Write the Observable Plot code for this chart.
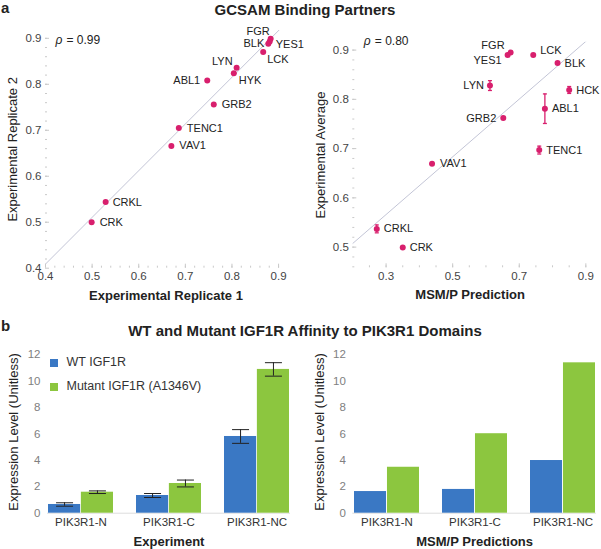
<!DOCTYPE html>
<html><head><meta charset="utf-8">
<script src="https://cdn.jsdelivr.net/npm/d3@7"></script>
<script src="https://cdn.jsdelivr.net/npm/@observablehq/plot@0.6"></script>
<style>
body{margin:0;background:#fff;}
#fig{position:relative;width:601px;height:549px;overflow:hidden;font-family:"Liberation Sans",Arial,Helvetica,sans-serif;color:#222;}
.abs{position:absolute;line-height:1;white-space:nowrap;}
.letter{font-weight:bold;font-size:15px;}
.title{font-weight:bold;font-size:15px;text-align:center;}
.sw{position:absolute;width:8px;height:8px;}
.lg{position:absolute;font-size:12.5px;line-height:1;color:#333;}
</style></head><body><div id="fig"></div>
<script>
// ---------- data ----------
const partnersA1 = ["FGR","YES1","BLK","LCK","LYN","HYK","ABL1","GRB2","TENC1","VAV1","CRKL","CRK"];
const replicate1 = [0.883,0.881,0.878,0.867,0.810,0.804,0.747,0.761,0.686,0.670,0.529,0.499];
const replicate2 = [0.899,0.893,0.888,0.870,0.836,0.824,0.808,0.756,0.705,0.666,0.544,0.500];

const partnersA2 = ["FGR","YES1","LCK","BLK","LYN","HCK","ABL1","GRB2","TENC1","VAV1","CRKL","CRK"];
const msmpPrediction = [0.674,0.665,0.742,0.815,0.612,0.850,0.777,0.652,0.760,0.438,0.272,0.350];
const experimentalAverage = [0.895,0.890,0.890,0.874,0.828,0.819,0.781,0.762,0.697,0.669,0.537,0.499];
const averageError = [0,0,0,0,0.010,0.007,0.030,0,0.008,0,0.008,0];

const rhoA1 = "0.99";
const rhoA2 = "0.80";

const domainsB = ["PIK3R1-N","PIK3R1-C","PIK3R1-NC"];
const seriesB = ["WT IGF1R","Mutant IGF1R (A1346V)"];
const experimentWT = [0.66,1.34,5.81];
const experimentWTErr = [0.13,0.15,0.52];
const experimentMut = [1.59,2.25,10.89];
const experimentMutErr = [0.10,0.26,0.51];
const predictionWT = [1.64,1.80,3.99];
const predictionMut = [3.48,6.02,11.39];

const ticksA1 = [0.4,0.5,0.6,0.7,0.8,0.9];
const ticksA2x = [0.3,0.5,0.7,0.9];
const ticksA2y = [0.5,0.6,0.7,0.8,0.9];
const ticksB = [0,2,4,6,8,10,12];

// ---------- styles ----------
const FONT = '"Liberation Sans", Arial, Helvetica, sans-serif';
const PINK = "#d81f6d";
const BLUE = "#3a78c4";
const GREEN = "#8cc63f";
const AXIS = "#c9c9c9";
const fig = document.getElementById("fig");

// label placement: [dx, dy, anchor]
const placeA1 = {FGR:[-1,-7,"end"],YES1:[6,3,"start"],BLK:[-4,0,"end"],LCK:[4,7,"start"],LYN:[-4,-6,"end"],
  HYK:[5,7,"start"],ABL1:[-7,0,"end"],GRB2:[8,0,"start"],TENC1:[8,0,"start"],VAV1:[8,0,"start"],CRKL:[7,0,"start"],CRK:[8,0,"start"]};
const placeA2 = {FGR:[-6,-7,"end"],YES1:[-6,5,"end"],LCK:[7,-5,"start"],BLK:[7,1,"start"],LYN:[-6,0,"end"],
  HCK:[7,0,"start"],ABL1:[7,0,"start"],GRB2:[-7,0,"end"],TENC1:[7,0,"start"],VAV1:[8,0,"start"],CRKL:[7,0,"start"],CRK:[7,0,"start"]};

function place(node, left, top){ node.style.position="absolute"; node.style.left=left+"px"; node.style.top=top+"px"; fig.appendChild(node); return node; }
function addText(cls, text, left, top, extra){ const d=document.createElement("div"); d.className="abs "+cls; d.textContent=text; if(extra) Object.assign(d.style, extra); place(d,left,top); return d; }

const capSymbol = {draw(ctx, size){ const r=Math.sqrt(size/Math.PI); ctx.moveTo(-r,0); ctx.lineTo(r,0); }};

function range(a,b,s){ const out=[]; for(let v=a; v<=b+1e-9; v+=s) out.push(+v.toFixed(4)); return out; }

function regression(xs, ys, xDomain){
  const mx=d3.mean(xs), my=d3.mean(ys);
  const b=d3.sum(xs,(x,i)=>(x-mx)*(ys[i]-my))/d3.sum(xs,x=>(x-mx)**2);
  const a=my-b*mx;
  return xDomain.map(x=>({x, y:a+b*x}));
}

function scatterPanel(o){
  const rows = o.names.map((n,i)=>({name:n, x:o.xs[i], y:o.ys[i], e:o.errs?o.errs[i]:0}));
  const errRows = rows.filter(d=>d.e>0);
  const marks = [
    Plot.line(regression(o.xs,o.ys,o.xDomain), {x:"x", y:"y", stroke:"#c3c5d6", strokeWidth:1, clip:true}),
    Plot.axisX({ticks:o.xMinor, tickSize:-2, tickFormat:()=>"", stroke:AXIS, label:null}),
    Plot.axisY({ticks:o.yMinor, tickSize:-2, tickFormat:()=>"", stroke:AXIS, label:null}),
    Plot.axisX({ticks:o.xTicks, tickSize:-4, tickFormat:()=>"", stroke:AXIS, label:null}),
    Plot.axisY({ticks:o.yTicks, tickSize:-4, tickFormat:()=>"", stroke:AXIS, label:null}),
    Plot.axisX({ticks:o.xTicks, tickSize:0, tickPadding:4, line:true, stroke:AXIS, fill:"#444", fontSize:11.5, tickFormat:d3.format(".1f"), label:null}),
    Plot.axisY({ticks:o.yTicks, tickSize:0, tickPadding:4, line:true, stroke:AXIS, fill:"#444", fontSize:11.5, tickFormat:d3.format(".1f"), label:null}),
    Plot.ruleX(errRows, {x:"x", y1:d=>d.y-d.e, y2:d=>d.y+d.e, stroke:PINK, strokeWidth:1.3}),
    Plot.dot(errRows, {x:"x", y:d=>d.y-d.e, symbol:capSymbol, r:2, stroke:PINK, fill:"none", strokeWidth:1.3}),
    Plot.dot(errRows, {x:"x", y:d=>d.y+d.e, symbol:capSymbol, r:2, stroke:PINK, fill:"none", strokeWidth:1.3}),
    Plot.dot(rows, {x:"x", y:"y", r:3, fill:PINK, stroke:"none"}),
    ...rows.map(d=>{ const p=o.place[d.name]; return Plot.text([d], {x:"x", y:"y", text:"name", dx:p[0], dy:p[1], textAnchor:p[2], fill:"#222", fontSize:11}); }),
    Plot.text(["ρ"], {text:d=>d, frameAnchor:"top-left", dx:o.rhoDx, dy:o.rhoDy, fontStyle:"italic", fontSize:12, fill:"#222", textAnchor:"start", lineAnchor:"middle"}),
    Plot.text(["= "+o.rho], {text:d=>d, frameAnchor:"top-left", dx:o.rhoDx+11, dy:o.rhoDy, fontSize:12, fill:"#222", textAnchor:"start", lineAnchor:"middle"}),
    Plot.text([o.xLabel], {text:d=>d, frameAnchor:"bottom", dy:o.xLabelDy, fontWeight:"bold", fontSize:13, fill:"#222", textAnchor:"middle", lineAnchor:"middle"}),
    Plot.text([o.yLabel], {text:d=>d, frameAnchor:"left", dx:-o.yLabelDx, rotate:-90, fontSize:13, fill:"#222", textAnchor:"middle", lineAnchor:"middle"})
  ];
  return Plot.plot({
    width:o.width, height:o.height, marginLeft:o.ml, marginRight:o.mr, marginTop:o.mt, marginBottom:o.mb,
    style:{fontFamily:FONT, fontSize:"12px", background:"transparent", overflow:"visible"},
    x:{domain:o.xDomain}, y:{domain:o.yDomain},
    marks
  });
}

function barPanel(o){
  const pad = 0.258;
  const bw = (o.width-o.ml-o.mr)/(domainsB.length-pad)*(1-pad);
  const half = bw/2;
  const wt = domainsB.map((c,i)=>({cat:c, v:o.wt[i], e:o.wtErr?o.wtErr[i]:0}));
  const mut = domainsB.map((c,i)=>({cat:c, v:o.mut[i], e:o.mutErr?o.mutErr[i]:0}));
  const errMarks = (rows, dx)=>{
    const r = rows.filter(d=>d.e>0);
    return [
      Plot.ruleX(r, {x:"cat", y1:d=>d.v-d.e, y2:d=>d.v+d.e, dx, stroke:"#222", strokeWidth:1}),
      Plot.dot(r, {x:"cat", y:d=>d.v-d.e, dx, symbol:capSymbol, r:8.5, stroke:"#222", fill:"none", strokeWidth:1}),
      Plot.dot(r, {x:"cat", y:d=>d.v+d.e, dx, symbol:capSymbol, r:8.5, stroke:"#222", fill:"none", strokeWidth:1})
    ];
  };
  return Plot.plot({
    width:o.width, height:o.height, marginLeft:o.ml, marginRight:o.mr, marginTop:o.mt, marginBottom:o.mb,
    style:{fontFamily:FONT, fontSize:"12px", background:"transparent", overflow:"visible"},
    x:{domain:domainsB, paddingInner:pad, paddingOuter:0},
    y:{domain:[0,12.3]},
    marks:[
      Plot.ruleY([0], {stroke:"#dddddd"}),
      Plot.axisY({ticks:ticksB, tickSize:0, tickPadding:7, line:true, stroke:"#dddddd", fill:"#808080", fontSize:11.5, label:null}),
      Plot.axisX({tickSize:0, tickPadding:5, fill:"#333", fontSize:11.5, label:null}),
      Plot.barY(wt, {x:"cat", y:"v", fill:BLUE, insetRight:half}),
      Plot.barY(mut, {x:"cat", y:"v", fill:GREEN, insetLeft:half}),
      ...errMarks(wt, -half/2),
      ...errMarks(mut, half/2),
      Plot.text([o.xLabel], {text:d=>d, frameAnchor:"bottom", dy:o.xLabelDy, fontWeight:"bold", fontSize:13, fill:"#222", textAnchor:"middle", lineAnchor:"middle"}),
      Plot.text([o.yLabel], {text:d=>d, frameAnchor:"left", dx:-o.yLabelDx, rotate:-90, fontSize:13, fill:"#222", textAnchor:"middle", lineAnchor:"middle"})
    ]
  });
}

// ---------- panel a ----------
place(scatterPanel({
  names:partnersA1, xs:replicate1, ys:replicate2, xDomain:[0.4,0.917], yDomain:[0.4,0.917],
  xTicks:ticksA1, yTicks:ticksA1, xMinor:range(0.42,0.9,0.02), yMinor:range(0.42,0.9,0.02),
  width:300, height:310, ml:45, mr:14, mt:30, mb:42.3, place:placeA1, rho:rhoA1, rhoDx:10, rhoDy:10,
  xLabel:"Experimental Replicate 1", yLabel:"Experimental Replicate 2", xLabelDy:27.5, yLabelDx:33
}), 0, 0);

place(scatterPanel({
  names:partnersA2, xs:msmpPrediction, ys:experimentalAverage, errs:averageError, xDomain:[0.2,0.905], yDomain:[0.458,0.916],
  xTicks:ticksA2x, yTicks:ticksA2y, xMinor:range(0.25,0.9,0.05), yMinor:range(0.46,0.9,0.02),
  width:301, height:310, ml:52.3, mr:14, mt:41.7, mb:42.7, place:placeA2, rho:rhoA2, rhoDx:11, rhoDy:-1,
  xLabel:"MSM/P Prediction", yLabel:"Experimental Average", xLabelDy:27.5, yLabelDx:32
}), 300, 0);

// ---------- panel b ----------
place(barPanel({
  wt:experimentWT, wtErr:experimentWTErr, mut:experimentMut, mutErr:experimentMutErr,
  width:300, height:249, ml:47, mr:10, mt:50.3, mb:36.3,
  xLabel:"Experiment", yLabel:"Expression Level (Unitless)", xLabelDy:28.5, yLabelDx:34
}), 0, 300);

place(barPanel({
  wt:predictionWT, mut:predictionMut,
  width:301, height:249, ml:52.3, mr:5, mt:50.3, mb:36.3,
  xLabel:"MSM/P Predictions", yLabel:"Expression Level (Unitless)", xLabelDy:28.5, yLabelDx:33
}), 300, 300);

// ---------- titles & legend ----------
addText("letter","a",1,0);
addText("title","GCSAM Binding Partners",5,1.5,{width:"600px"});
addText("letter","b",1,318);
addText("title","WT and Mutant IGF1R Affinity to PIK3R1 Domains",5,322.5,{width:"600px"});

const legendColors = [BLUE, GREEN];
seriesB.forEach((s,i)=>{
  const sw=document.createElement("div"); sw.className="sw"; sw.style.background=legendColors[i]; place(sw, 50, 358.5+i*24);
  const t=document.createElement("div"); t.className="lg"; t.textContent=s; place(t, 66.5, 356+i*24);
});
</script></body></html>
